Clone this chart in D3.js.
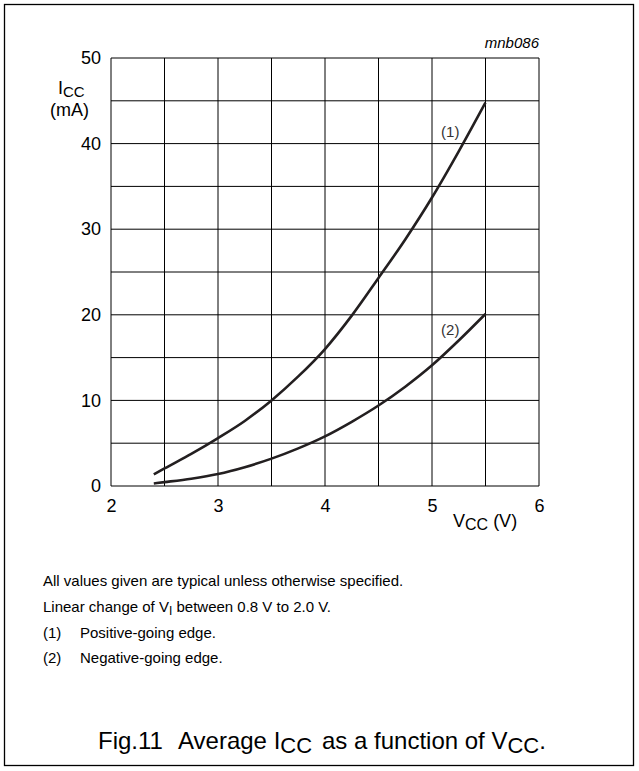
<!DOCTYPE html>
<html>
<head>
<meta charset="utf-8">
<script src="https://cdn.jsdelivr.net/npm/d3@7/dist/d3.min.js"></script>
<style>
  html, body { margin: 0; padding: 0; background: #fff; }
  svg { display: block; }
  text { font-family: "Liberation Sans", Arial, sans-serif; fill: #000; }
</style>
</head>
<body>
<svg id="chart" width="639" height="771"></svg>
<script>
// ---- data ----
const xTicks = [2, 3, 4, 5, 6];
const yTicks = [0, 10, 20, 30, 40, 50];
const xGrid = [2, 2.5, 3, 3.5, 4, 4.5, 5, 5.5, 6];
const yGrid = [0, 5, 10, 15, 20, 25, 30, 35, 40, 45, 50];

const vcc = [2.4, 2.5, 2.75, 3, 3.25, 3.5, 3.75, 4, 4.25, 4.5, 4.75, 5, 5.25, 5.5];
const icc1 = [1.35, 2.05, 3.75, 5.6, 7.6, 10, 12.8, 16, 19.9, 24.3, 28.8, 33.7, 39.1, 44.8];
const icc2 = [0.3, 0.45, 0.85, 1.4, 2.2, 3.2, 4.4, 5.8, 7.5, 9.4, 11.6, 14.1, 17, 20.1];
const seriesLabels = ["(1)", "(2)"];
const labelAt = [[5.085, 40.8], [5.085, 17.6]];

const notes = [
  "All values given are typical unless otherwise specified.",
  "Linear change of V|I| between 0.8 V to 2.0 V.",
  "(1)\tPositive-going edge.",
  "(2)\tNegative-going edge."
];

// ---- layout ----
const svg = d3.select("#chart");
const M = { left: 111, top: 58, right: 539, bottom: 486 };
const x = d3.scaleLinear().domain([2, 6]).range([M.left, M.right]);
const y = d3.scaleLinear().domain([0, 50]).range([M.bottom, M.top]);
const FONT = "Liberation Sans, Arial, sans-serif";

// outer frame
svg.append("rect").attr("x", 4.5).attr("y", 4.5).attr("width", 629).attr("height", 761)
  .attr("fill", "none").attr("stroke", "#000").attr("stroke-width", 1.3);

// grid
const g = svg.append("g");
g.selectAll(".vg").data(xGrid).enter().append("line")
  .attr("x1", d => x(d)).attr("x2", d => x(d))
  .attr("y1", y(0)).attr("y2", y(50))
  .attr("stroke", "#000").attr("stroke-width", 1);
g.selectAll(".hg").data(yGrid).enter().append("line")
  .attr("x1", x(2)).attr("x2", x(6))
  .attr("y1", d => y(d)).attr("y2", d => y(d))
  .attr("stroke", "#000").attr("stroke-width", 1);

// axes labels via d3 axes
const xAxis = svg.append("g").attr("transform", `translate(0,${M.bottom})`)
  .call(d3.axisBottom(x).tickValues(xTicks).tickSize(0).tickPadding(13).tickFormat(d3.format("d")));
xAxis.select(".domain").remove();
xAxis.selectAll("text").attr("font-size", 18).attr("font-family", FONT).attr("fill", "#000");

const yAxis = svg.append("g").attr("transform", `translate(${M.left},0)`)
  .call(d3.axisLeft(y).tickValues(yTicks).tickSize(0).tickPadding(10).tickFormat(d3.format("d")));
yAxis.select(".domain").remove();
yAxis.selectAll("text").attr("font-size", 18).attr("font-family", FONT).attr("fill", "#000");

// curves
const line = d3.line().x(d => x(d[0])).y(d => y(d[1])).curve(d3.curveMonotoneX);
[icc1, icc2].forEach(s => {
  svg.append("path").datum(vcc.map((v, i) => [v, s[i]]))
    .attr("d", line).attr("fill", "none")
    .attr("stroke", "#231f20").attr("stroke-width", 2.6);
});

// series labels
seriesLabels.forEach((t, i) => {
  svg.append("text").attr("x", x(labelAt[i][0])).attr("y", y(labelAt[i][1]))
    .attr("font-size", 15).style("fill", "#333").text(t);
});

// mnb086
svg.append("text").attr("x", M.right).attr("y", 48).attr("text-anchor", "end")
  .attr("font-size", 15).attr("font-style", "italic").text("mnb086");

// y label
const yl = svg.append("text").attr("x", 58).attr("y", 94).attr("font-size", 18);
yl.append("tspan").text("I");
yl.append("tspan").attr("dy", 3).attr("font-size", 15).text("CC");
svg.append("text").attr("x", 50).attr("y", 116).attr("font-size", 18).text("(mA)");

// x label
const xl = svg.append("text").attr("x", 453).attr("y", 527).attr("font-size", 18);
xl.append("tspan").text("V");
xl.append("tspan").attr("dy", 3).attr("font-size", 16).text("CC");
xl.append("tspan").attr("dy", -3).text("\u00A0(V)");

// notes
const noteY = [586, 612, 638, 663];
notes.forEach((n, i) => {
  if (n.includes("\t")) {
    const [a, b] = n.split("\t");
    svg.append("text").attr("x", 43).attr("y", noteY[i]).attr("font-size", 15).text(a);
    svg.append("text").attr("x", 80).attr("y", noteY[i]).attr("font-size", 15).text(b);
  } else if (n.includes("|")) {
    const parts = n.split("|");
    const t = svg.append("text").attr("x", 43).attr("y", noteY[i]).attr("font-size", 15);
    t.append("tspan").text(parts[0]);
    t.append("tspan").attr("dy", 3).attr("font-size", 12).text(parts[1]);
    t.append("tspan").attr("dy", -3).text("\u00A0" + parts[2].trimStart());
  } else {
    svg.append("text").attr("x", 43).attr("y", noteY[i]).attr("font-size", 15).text(n);
  }
});

// caption
const cap = svg.append("text").attr("y", 749).attr("font-size", 24);
cap.append("tspan").attr("x", 98).text("Fig.11");
cap.append("tspan").attr("x", 178).text("Average I");
cap.append("tspan").attr("dy", 4).attr("font-size", 22).text("CC");
cap.append("tspan").attr("dy", -4).attr("x", 322).text("as a function of V");
cap.append("tspan").attr("dy", 4).attr("font-size", 22).text("CC");
cap.append("tspan").attr("dy", -4).text(".");
</script>
</body>
</html>
